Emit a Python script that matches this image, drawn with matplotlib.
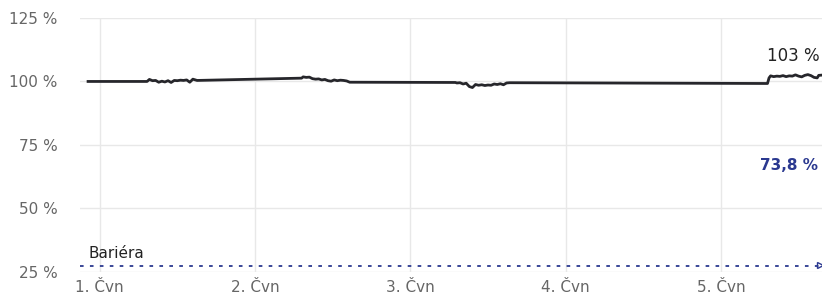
import numpy as np
import matplotlib.pyplot as plt

# time in days (1 = 1. Čvn), value in %
days = [0.925, 1.305, 1.32, 1.34, 1.36, 1.38, 1.40, 1.42, 1.44, 1.46, 1.48, 1.50,
        1.52, 1.54, 1.56, 1.58, 1.60, 1.627,
        2.30, 2.31, 2.33, 2.35, 2.37, 2.39, 2.41, 2.43, 2.45, 2.47, 2.49, 2.51,
        2.53, 2.55, 2.57, 2.59, 2.61,
        3.29, 3.30, 3.32, 3.34, 3.36, 3.38, 3.40, 3.42, 3.44, 3.46, 3.48, 3.50,
        3.52, 3.54, 3.56, 3.58, 3.60, 3.62, 3.64,
        5.30, 5.31, 5.32, 5.34, 5.36, 5.38, 5.40, 5.42, 5.44, 5.46, 5.48, 5.50,
        5.52, 5.54, 5.56, 5.58, 5.60, 5.62, 5.63, 5.651]
values = [100.0, 100.0, 100.8, 100.3, 100.4, 99.7, 100.1, 99.8, 100.3, 99.6, 100.4, 100.3,
          100.5, 100.4, 100.6, 99.7, 100.9, 100.4,
          101.3, 101.8, 101.6, 101.7, 101.1, 100.9, 101.0, 100.6, 100.8, 100.3, 100.1, 100.6,
          100.3, 100.5, 100.4, 100.2, 99.7,
          99.6, 99.4, 99.5, 99.0, 99.3, 98.0, 97.6, 98.8, 98.5, 98.7, 98.4, 98.6,
          98.5, 99.0, 98.8, 99.1, 98.7, 99.4, 99.5,
          99.2, 101.4, 102.2, 101.9, 102.1, 102.0, 102.3, 101.9, 102.2, 102.1, 102.6, 102.1,
          101.8, 102.4, 102.7, 102.3, 101.6, 101.4, 102.4, 102.5]

barrier = 27.2
last_label = "103 %"
dist_label = "73,8 %"
tick_days = [1, 2, 3, 4, 5]
tick_labels = ["1. Čvn", "2. Čvn", "3. Čvn", "4. Čvn", "5. Čvn"]
yticks = [25, 50, 75, 100, 125]

fig = plt.figure(figsize=(8.22, 2.99), dpi=100)
ax = fig.add_axes([0.0973, 0.0903, 0.9027, 0.8497])

xmin, xmax = 0.873, 5.651
ax.set_xlim(xmin, xmax)
ax.set_ylim(25, 125)

ax.plot(days, values, color="#26262b", lw=2.0, solid_joinstyle="round", zorder=3)

# barrier line
ax.plot([xmin, xmax], [barrier, barrier], color="#2b3990", lw=1.3,
        linestyle=(0, (2, 3.5)), zorder=2)
ax.plot([xmax - 0.012], [barrier + 0.6], marker=">", ms=4, mfc="none",
        mec="#2b3990", mew=1.0, clip_on=False)
ax.text(0.925, barrier + 2.0, "Bariéra", fontsize=11, color="#222222",
        ha="left", va="bottom")

ax.text(0.997, 0.852, last_label, transform=ax.transAxes, fontsize=12,
        color="#222222", ha="right", va="center")
ax.text(0.995, 0.42, dist_label, transform=ax.transAxes, fontsize=11,
        color="#2b3990", fontweight="bold", ha="right", va="center")

ax.set_yticks(yticks)
ax.set_yticklabels([f"{v} %" for v in yticks])
ax.set_xticks(tick_days)
ax.set_xticklabels(tick_labels)
ax.tick_params(length=0, labelsize=11, labelcolor="#666666")
ax.tick_params(axis="y", pad=16)
ax.tick_params(axis="x", pad=6)
ax.grid(True, color="#e8e8e8", lw=1.0)
ax.set_axisbelow(True)
for s in ax.spines.values():
    s.set_visible(False)

fig.savefig("out.png", dpi=100)
